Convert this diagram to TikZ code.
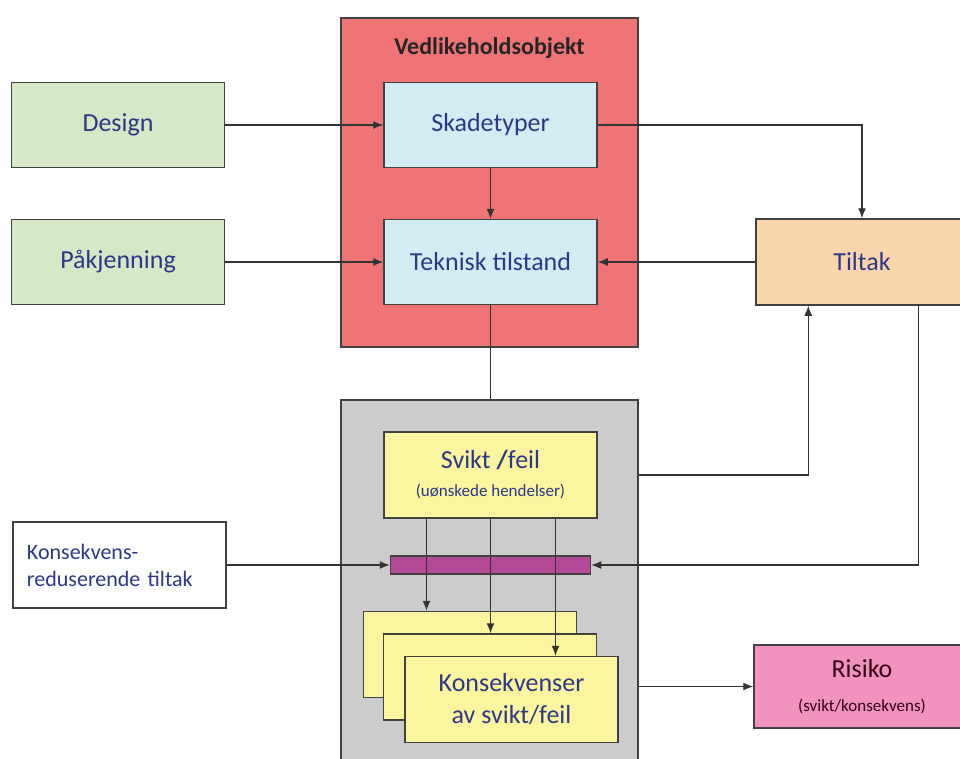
\documentclass[tikz,border=0pt]{standalone}
\usepackage{fontspec}
\setmainfont{Carlito}
\usepackage{tikz}
\usetikzlibrary{positioning,arrows.meta,calc}
\definecolor{objred}{RGB}{241,116,116}
\definecolor{lightcyan}{RGB}{210,236,243}
\definecolor{sagegreen}{RGB}{214,232,197}
\definecolor{peach}{RGB}{251,214,172}
\definecolor{boxgrey}{RGB}{204,204,204}
\definecolor{paleyellow}{RGB}{250,245,158}
\definecolor{barpurple}{RGB}{180,73,154}
\definecolor{riskpink}{RGB}{242,146,190}
\definecolor{txtblue}{RGB}{45,55,135}
\definecolor{edgegrey}{RGB}{65,65,65}
\tikzset{
  flowarrow/.style={-{Latex[length=10pt,width=8pt]}, line width=1.3pt, draw=black!80},
  plainline/.style={line width=1.3pt, draw=black!80},
  frame/.style={draw=edgegrey, line width=1.5pt, inner sep=0pt},
  objbox/.style={frame, fill=objred, minimum width=297pt, minimum height=329pt},
  failbox/.style={frame, fill=boxgrey, minimum width=297pt, minimum height=370pt},
  statebox/.style={frame, fill=lightcyan, minimum width=213pt, minimum height=85pt, align=center, text=txtblue, font=\fontsize{26}{30}\selectfont},
  loadbox/.style={frame, fill=sagegreen, minimum width=213pt, minimum height=85pt, align=center, text=txtblue, font=\fontsize{26}{30}\selectfont},
  actionbox/.style={frame, fill=peach, minimum width=212pt, minimum height=86pt, align=center, text=txtblue, font=\fontsize{26}{30}\selectfont},
  eventbox/.style={frame, fill=paleyellow, minimum width=213pt, minimum height=86pt, align=center, text=txtblue, font=\fontsize{26}{32}\selectfont},
  riskbox/.style={frame, fill=riskpink, minimum width=216pt, minimum height=83pt, align=center, text=black!75!purple, font=\fontsize{26}{30}\selectfont},
  notebox/.style={frame, fill=white, minimum width=213pt, minimum height=86pt, inner xsep=14pt, text width=185pt, align=left, text=txtblue, font=\fontsize{22}{27}\selectfont},
  barrier/.style={frame, fill=barpurple, minimum width=200pt, minimum height=18pt}
}
\begin{document}
\begin{tikzpicture}[x=1pt, y=-1pt]
  \useasboundingbox (0,0) rectangle (960,758);
  % containers
  \node[objbox] (obj) at (489.5,182.5) {};
  \node[font=\bfseries\fontsize{24}{28}\selectfont, text=black!85] (objtitle) at (489.5,48) {Vedlikeholdsobjekt};
  \node[failbox] (fail) at (489.5,585) {};
  % inputs
  \node[loadbox] (design) at (118,125) {Design};
  \node[loadbox] (load) at (118,262) {Påkjenning};
  \node[statebox] (damage) at (490.5,125) {Skadetyper};
  \node[statebox] (state) at (490.5,262) {Teknisk tilstand};
  \node[actionbox] (action) at (862,262) {Tiltak};
  % failure part
  \node[eventbox] (failure) at (490.5,475) {Svikt \textbf{/}feil\\[-4pt]{\fontsize{17}{19}\selectfont (uønskede hendelser)}};
  \node[barrier] (bar) at (490.5,565) {};
  \node[notebox] (reduce) at (119.5,565) {Konsekvens-\\reduserende tiltak};
  \node[eventbox] (cons1) at (470,654.5) {};
  \node[eventbox] (cons2) at (490,677) {};
  \node[eventbox] (cons3) at (511.5,699.5) {Konsekvenser\\av svikt/feil};
  \node[riskbox] (risk) at (862,686.5) {Risiko\\[4pt]{\fontsize{17}{19}\selectfont (svikt/konsekvens)}};
  % connectors
  \draw[flowarrow] (design) -- (damage);
  \draw[flowarrow] (load) -- (state);
  \draw[flowarrow] (damage) -- (state);
  \draw[flowarrow] (damage.east) -| (action.north);
  \draw[flowarrow] (action) -- (state);
  \draw[plainline] (state.south) -- (state.south |- fail.north);
  \draw[flowarrow] (failure.east -| fail.east) -| ([xshift=53pt]action.south west);
  \draw[flowarrow] ([xshift=-50pt]action.south east) |- (bar.east);
  \draw[flowarrow] (reduce) -- (bar);
  \draw[flowarrow] ([xshift=-64pt]failure.south) -- ([xshift=-64pt]failure.south |- cons1.north);
  \draw[flowarrow] (failure.south) -- (failure.south |- cons2.north);
  \draw[flowarrow] ([xshift=65pt]failure.south) -- ([xshift=65pt]failure.south |- cons3.north);
  \draw[flowarrow] (fail.east |- risk.west) -- (risk.west);
\end{tikzpicture}
\end{document}
